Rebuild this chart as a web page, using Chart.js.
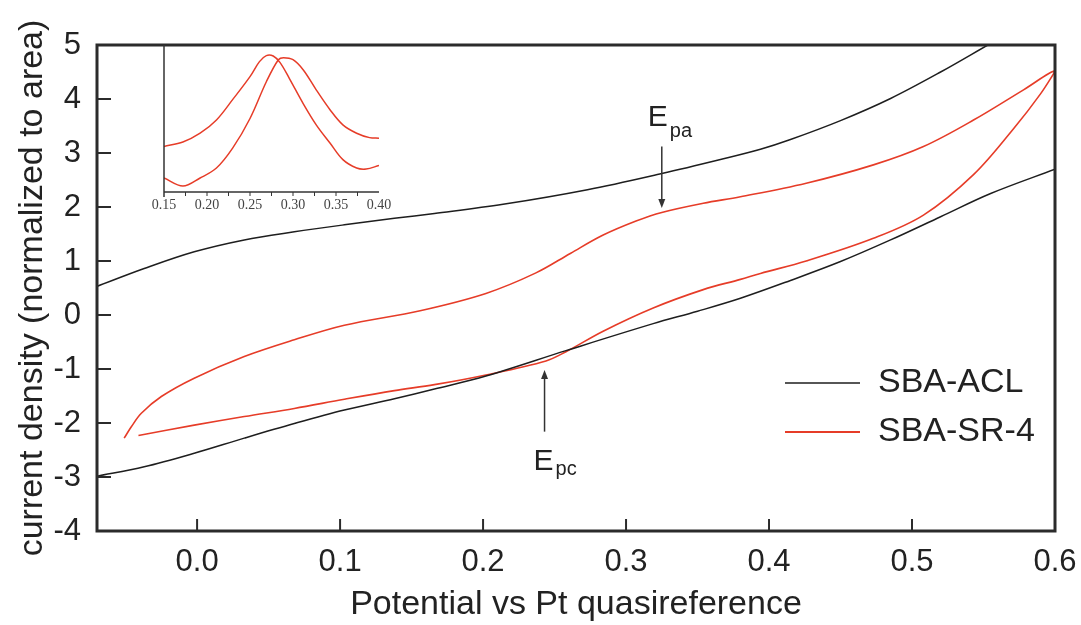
<!DOCTYPE html>
<html>
<head>
<meta charset="utf-8">
<script src="https://cdn.jsdelivr.net/npm/chart.js@4.4.1/dist/chart.umd.min.js"></script>
<style>
  html, body { margin: 0; padding: 0; background: #fff; }
  #wrap { position: relative; width: 1081px; height: 625px; }
  #mainChart { position: absolute; left: 0; top: 0; }
  #insetChart { position: absolute; left: 150px; top: 40px; }
</style>
</head>
<body>
<div id="wrap">
  <canvas id="mainChart" width="1081" height="625"></canvas>
  <canvas id="insetChart" width="245" height="180"></canvas>
</div>
<script>
const FONT = '"Liberation Sans", Arial, Helvetica, sans-serif';
const SERIF = '"Liberation Serif", "Times New Roman", serif';
const INK = '#222';
const RED = '#e63c28';

const seriesNames = ['SBA-ACL', 'SBA-SR-4'];
const seriesColors = ['#1e1e1e', RED];

// tick labels
const xTicks = [0, 0.1, 0.2, 0.3, 0.4, 0.5, 0.6];
const yTicks = [-4, -3, -2, -1, 0, 1, 2, 3, 4, 5];
const insetTicks = [0.15, 0.2, 0.25, 0.3, 0.35, 0.4];

// SBA-ACL upper branch
const aclUpperX = [-0.071, -0.037, -0.002, 0.033, 0.068, 0.103, 0.138, 0.166, 0.214, 0.273, 0.325, 0.366, 0.394, 0.415, 0.450, 0.485, 0.520, 0.553];
const aclUpperY = [0.52, 0.86, 1.17, 1.39, 1.54, 1.67, 1.79, 1.88, 2.05, 2.32, 2.62, 2.88, 3.07, 3.25, 3.60, 4.01, 4.50, 5.00];
// SBA-ACL lower branch
const aclLowerX = [-0.071, -0.037, -0.002, 0.033, 0.068, 0.103, 0.138, 0.166, 0.202, 0.258, 0.319, 0.350, 0.380, 0.415, 0.450, 0.485, 0.520, 0.555, 0.600];
const aclLowerY = [-2.99, -2.81, -2.56, -2.28, -2.01, -1.76, -1.55, -1.37, -1.13, -0.66, -0.16, 0.07, 0.31, 0.64, 0.99, 1.39, 1.82, 2.25, 2.70];

// SBA-SR-4, one closed sweep: lower branch left->right, then upper branch back
const srX = [-0.041, -0.002, 0.033, 0.068, 0.103, 0.138, 0.166, 0.202, 0.244, 0.258, 0.284, 0.319, 0.354, 0.380, 0.394, 0.426, 0.473, 0.508, 0.543, 0.571, 0.590, 0.600,
             0.578, 0.543, 0.508, 0.473, 0.426, 0.380, 0.354, 0.325, 0.307, 0.284, 0.261, 0.237, 0.202, 0.156, 0.103, 0.068, 0.033, -0.002, -0.025, -0.039, -0.046, -0.051];
const srY = [-2.23, -2.04, -1.88, -1.73, -1.56, -1.40, -1.29, -1.11, -0.85, -0.68, -0.30, 0.13, 0.47, 0.66, 0.77, 1.00, 1.42, 1.85, 2.60, 3.45, 4.10, 4.52,
             4.17, 3.61, 3.12, 2.78, 2.44, 2.19, 2.07, 1.90, 1.74, 1.48, 1.14, 0.78, 0.40, 0.08, -0.19, -0.46, -0.77, -1.17, -1.51, -1.82, -2.07, -2.28];

// inset (normalized)
const insetAX = [0.150, 0.172, 0.192, 0.211, 0.230, 0.250, 0.261, 0.269, 0.277, 0.285, 0.296, 0.312, 0.327, 0.343, 0.358, 0.374, 0.385, 0.400];
const insetAY = [0.31, 0.34, 0.40, 0.49, 0.63, 0.785, 0.887, 0.928, 0.925, 0.88, 0.77, 0.60, 0.457, 0.333, 0.22, 0.163, 0.156, 0.18];
const insetBX = [0.150, 0.172, 0.192, 0.211, 0.230, 0.250, 0.269, 0.283, 0.289, 0.300, 0.312, 0.327, 0.343, 0.358, 0.374, 0.389, 0.400];
const insetBY = [0.095, 0.04, 0.095, 0.163, 0.30, 0.50, 0.75, 0.90, 0.914, 0.90, 0.83, 0.695, 0.56, 0.457, 0.40, 0.37, 0.366];

// peak arrows (x, tail y, head y in data units)
const arrowNotes = [
  { main: 'E', sub: 'pa', x: 0.325, yFrom: 3.12, yTo: 1.98, dx: -14, dy: -21, subDy: 11 },
  { main: 'E', sub: 'pc', x: 0.243, yFrom: -2.16, yTo: -1.02, dx: -11, dy: 38, subDy: 5 }
];

function pts(xs, ys) {
  return xs.map((x, i) => ({ x: x, y: ys[i] }));
}

function line(ctx, x1, y1, x2, y2) {
  ctx.beginPath();
  ctx.moveTo(x1, y1);
  ctx.lineTo(x2, y2);
  ctx.stroke();
}

const lineStyle = { showLine: true, pointRadius: 0, borderWidth: 1.6, tension: 0.35, fill: false };

// frame, inward ticks, arrows and legend
const mainDecor = {
  id: 'mainDecor',
  afterDraw(chart) {
    const { ctx, chartArea: a, scales: { x, y } } = chart;
    ctx.save();
    ctx.strokeStyle = '#2b2b2b';
    ctx.lineWidth = 3;
    ctx.strokeRect(a.left, a.top, a.right - a.left, a.bottom - a.top);

    ctx.lineWidth = 2;
    yTicks.forEach(v => {
      const p = y.getPixelForValue(v);
      line(ctx, a.left, p, a.left + 14, p);
    });
    xTicks.forEach(v => {
      const p = x.getPixelForValue(v);
      line(ctx, p, a.bottom, p, a.bottom - 12);
    });

    // arrows
    arrowNotes.forEach(n => {
      const ax = x.getPixelForValue(n.x);
      const y0 = y.getPixelForValue(n.yFrom);
      const y1 = y.getPixelForValue(n.yTo);
      const dir = y1 > y0 ? 1 : -1;
      ctx.strokeStyle = '#333';
      ctx.fillStyle = '#333';
      ctx.lineWidth = 1.5;
      line(ctx, ax, y0, ax, y1 - dir * 6);
      ctx.beginPath();
      ctx.moveTo(ax, y1);
      ctx.lineTo(ax - 3.5, y1 - dir * 9);
      ctx.lineTo(ax + 3.5, y1 - dir * 9);
      ctx.closePath();
      ctx.fill();

      ctx.fillStyle = INK;
      ctx.textBaseline = 'alphabetic';
      ctx.textAlign = 'left';
      ctx.font = '30px ' + FONT;
      const tx = ax + n.dx;
      const ty = y0 + n.dy;
      ctx.fillText(n.main, tx, ty);
      const w = ctx.measureText(n.main).width;
      ctx.font = '20px ' + FONT;
      ctx.fillText(n.sub, tx + w + 2, ty + n.subDy);
    });

    // legend
    ctx.font = '34px ' + FONT;
    ctx.textBaseline = 'middle';
    ctx.textAlign = 'left';
    seriesNames.forEach((name, i) => {
      const ly = 383 + i * 49;
      ctx.strokeStyle = seriesColors[i];
      ctx.lineWidth = i === 0 ? 1.5 : 2;
      line(ctx, 785, ly, 860, ly);
      ctx.fillStyle = INK;
      ctx.fillText(name, 878, ly);
    });
    ctx.restore();
  }
};

const insetDecor = {
  id: 'insetDecor',
  afterDraw(chart) {
    const { ctx, chartArea: a, scales: { x } } = chart;
    ctx.save();
    ctx.strokeStyle = '#333';
    ctx.lineWidth = 1.5;
    line(ctx, a.left, a.top, a.left, a.bottom + 5);
    line(ctx, a.left, a.bottom, a.right, a.bottom);
    ctx.lineWidth = 1;
    for (let v = 0.175; v < 0.4; v += 0.025) {
      const p = x.getPixelForValue(v);
      line(ctx, p, a.bottom, p, a.bottom + 4);
    }
    ctx.restore();
  }
};

document.addEventListener('DOMContentLoaded', () => {
  new Chart(document.getElementById('mainChart'), {
    type: 'scatter',
    data: {
      datasets: [
        { label: seriesNames[0], data: pts(aclUpperX, aclUpperY), borderColor: seriesColors[0], ...lineStyle, borderWidth: 1.5 },
        { label: seriesNames[0], data: pts(aclLowerX, aclLowerY), borderColor: seriesColors[0], ...lineStyle, borderWidth: 1.5 },
        { label: seriesNames[1], data: pts(srX, srY), borderColor: seriesColors[1], ...lineStyle }
      ]
    },
    options: {
      responsive: false,
      animation: false,
      devicePixelRatio: 1,
      layout: { padding: { top: 45, right: 26, left: 0, bottom: 0 } },
      plugins: { legend: { display: false }, tooltip: { enabled: false } },
      scales: {
        x: {
          type: 'linear', min: -0.07, max: 0.6,
          afterBuildTicks: s => { s.ticks = xTicks.map(v => ({ value: v })); },
          afterFit: s => { s.height = 94; s.paddingLeft = 0; s.paddingRight = 0; },
          grid: { display: false, drawTicks: false },
          border: { display: false },
          ticks: { font: { family: FONT, size: 31 }, color: INK, padding: 13, maxRotation: 0, autoSkip: false,
                   callback: v => Number(v).toFixed(1) },
          title: { display: true, text: 'Potential vs Pt quasireference', color: INK,
                   font: { family: FONT, size: 34 }, padding: { top: 0, bottom: 0 } }
        },
        y: {
          type: 'linear', min: -4, max: 5,
          afterBuildTicks: s => { s.ticks = yTicks.map(v => ({ value: v })); },
          afterFit: s => { s.width = 97; s.paddingTop = 0; s.paddingBottom = 0; },
          grid: { display: false, drawTicks: false },
          border: { display: false },
          ticks: { font: { family: FONT, size: 31 }, color: INK, padding: 16, autoSkip: false,
                   callback: v => String(v) },
          title: { display: true, text: 'current density (normalized to area)', color: INK,
                   font: { family: FONT, size: 34 }, padding: { top: 12, bottom: 0 } }
        }
      }
    },
    plugins: [mainDecor]
  });

  new Chart(document.getElementById('insetChart'), {
    type: 'scatter',
    data: {
      datasets: [
        { data: pts(insetAX, insetAY), borderColor: RED, ...lineStyle, borderWidth: 1.5 },
        { data: pts(insetBX, insetBY), borderColor: RED, ...lineStyle, borderWidth: 1.5 }
      ]
    },
    options: {
      responsive: false,
      animation: false,
      devicePixelRatio: 1,
      layout: { padding: { top: 5, right: 16, left: 14, bottom: 0 } },
      plugins: { legend: { display: false }, tooltip: { enabled: false } },
      scales: {
        x: {
          type: 'linear', min: 0.15, max: 0.40,
          afterBuildTicks: s => { s.ticks = insetTicks.map(v => ({ value: v })); },
          afterFit: s => { s.height = 28; s.paddingLeft = 0; s.paddingRight = 0; },
          grid: { display: false, drawTicks: false },
          border: { display: false },
          ticks: { font: { family: SERIF, size: 14 }, color: '#444', padding: 5, maxRotation: 0, autoSkip: false,
                   callback: v => Number(v).toFixed(2) }
        },
        y: { display: false, min: 0, max: 1 }
      }
    },
    plugins: [insetDecor]
  });
});
</script>
</body>
</html>
